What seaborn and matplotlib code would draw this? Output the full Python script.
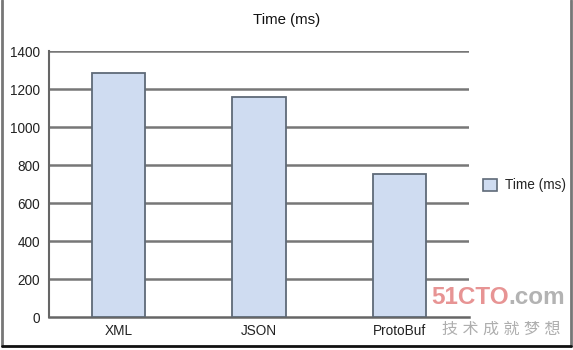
import matplotlib
matplotlib.use("Agg")
import matplotlib.pyplot as plt
import seaborn as sns
import pandas as pd
from matplotlib.patches import Rectangle
from matplotlib.lines import Line2D

categories = ["XML", "JSON", "ProtoBuf"]
times = [1285, 1160, 755]
yticks = [0, 200, 400, 600, 800, 1000, 1200, 1400]
series_name = "Time (ms)"

sns.set_style("white")
plt.rcParams['font.family'] = ['Liberation Sans', 'Noto Sans CJK SC', 'DejaVu Sans']

df = pd.DataFrame({"cat": categories, "val": times})

fig = plt.figure(figsize=(5.73, 3.5), dpi=100)
ax = fig.add_axes([0.085, 0.094, 0.734, 0.760])

sns.barplot(data=df, x="cat", y="val", ax=ax, color="#cfdcf1", width=0.38,
            edgecolor="#5f6a78", linewidth=1.3, saturation=1, zorder=3)

ax.set_xlim(-0.5, 2.5)
ax.set_ylim(0, 1400)
ax.set_yticks(yticks)
ax.set_yticklabels([str(t) for t in yticks], fontsize=9.8, color="#222222")
for t in yticks[1:]:
    ax.axhline(t, color="#777777", lw=1.8, zorder=1)

ax.set_xticks([-0.5, 0.5, 1.5, 2.5])
ax.set_xticklabels([])
ax.set_xticks([0, 1, 2], minor=True)
ax.set_xticklabels(categories, minor=True, fontsize=9.8, color="#222222")
ax.tick_params(axis="x", which="major", direction="out", length=6, width=1.3, color="#666666")
ax.tick_params(axis="x", which="minor", length=0, pad=5)
ax.tick_params(axis="y", direction="out", length=4, width=1.3, color="#666666", pad=2)
ax.set_xlabel("")
ax.set_ylabel("")

for s in ["top", "right"]:
    ax.spines[s].set_visible(False)
ax.spines["left"].set_color("#666666")
ax.spines["left"].set_linewidth(1.5)
ax.spines["bottom"].set_color("#666666")
ax.spines["bottom"].set_linewidth(1.8)

fig.text(0.5, 0.943, series_name, ha="center", va="center", fontsize=10.8, color="#111111")

handle = Rectangle((0, 0), 1, 1, facecolor="#cfdcf1", edgecolor="#5f6a78", linewidth=1.2)
fig.legend([handle], [series_name], loc="center left", bbox_to_anchor=(0.822, 0.47),
           frameon=False, fontsize=9.8, handlelength=1.0, handleheight=1.0, handletextpad=0.6)

# outer border
fig.add_artist(Line2D([0.004, 0.004], [0.012, 1.0], transform=fig.transFigure, color="#777777", lw=2))
fig.add_artist(Line2D([0.996, 0.996], [0.012, 1.0], transform=fig.transFigure, color="#777777", lw=2))
fig.add_artist(Line2D([0.004, 0.996], [0.012, 0.012], transform=fig.transFigure, color="#111111", lw=2))

# watermark
fig.text(0.888, 0.15, "51CTO", ha="right", va="center", fontsize=17.5, fontweight="bold",
         color="#e07070", alpha=0.75)
fig.text(0.888, 0.15, ".com", ha="left", va="center", fontsize=17.5, fontweight="bold",
         color="#a0a0a0", alpha=0.8)
fig.text(0.875, 0.058, "技 术 成 就 梦 想", ha="center", va="center", fontsize=11.5,
         color="#a0a0a0", alpha=0.85)

fig.savefig("out.png", dpi=100)
